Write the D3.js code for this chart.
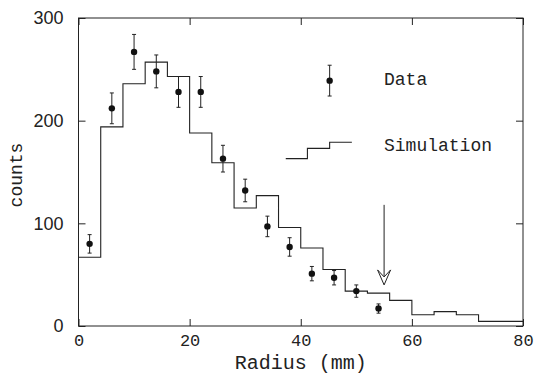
<!DOCTYPE html>
<html>
<head>
<meta charset="utf-8">
<script src="https://cdn.jsdelivr.net/npm/d3@7"></script>
<style>
  body { margin: 0; background: #fff; }
  .mono { font-family: "Liberation Mono", monospace; fill: #222; }
  .sans { font-family: "Liberation Sans", Arial, sans-serif; fill: #222; }
</style>
</head>
<body>
<svg id="chart" width="535" height="375"></svg>
<script>
// measured data points (bin centres, counts, error)
var dataR      = [2, 6, 10, 14, 18, 22, 26, 30, 34, 38, 42, 46, 50, 54];
var dataCounts = [80, 212, 267, 248, 228, 228, 163, 132, 97, 77, 51, 47, 34, 17];
var dataErr    = [9, 15, 17, 16, 15, 15, 13, 11, 10, 9, 7, 7, 6, 4.5];

// simulation histogram: bin edges and counts per bin
var simEdges  = [0, 4, 8, 12, 16, 20, 24, 28, 32, 36, 40, 44, 48, 52, 56, 60, 64, 68, 72, 80];
var simCounts = [67, 194, 236, 257, 243, 188, 159, 115, 127, 96, 76, 55, 34, 32, 25, 11, 14, 11, 4.5];

// axis ticks
var xTicks = [0, 20, 40, 60, 80];
var yTicks = [0, 100, 200, 300];

// legend entries (in data units)
var legendData = {r: 45.2, count: 239, err: 15};
var legendSimX = [37.3, 41.2, 45.2, 49.2];
var legendSimY = [163, 173, 179, 179];
var legendLabels = ["Data", "Simulation"];
var legendLabelY = [235, 170];

// arrow marking the cut (x, from count, to count)
var arrowX = 55, arrowFrom = 118, arrowTo = 40;

var svg = d3.select("#chart"),
    margin = {top: 18, right: 12, bottom: 49, left: 78.5},
    width = +svg.attr("width") - margin.left - margin.right,
    height = +svg.attr("height") - margin.top - margin.bottom,
    g = svg.append("g").attr("transform", "translate(" + margin.left + "," + margin.top + ")");

var x = d3.scaleLinear().domain([0, 80]).range([0, width]);
var y = d3.scaleLinear().domain([0, 300]).range([height, 0]);

var ink = "#222";

// frame
g.append("rect")
    .attr("width", width)
    .attr("height", height)
    .attr("fill", "none")
    .attr("stroke", ink)
    .attr("stroke-width", 1);

// axes with inward ticks on all four sides
function styleAxis(sel, cls, size) {
    sel.select(".domain").remove();
    sel.selectAll(".tick line").attr("stroke", ink);
    sel.selectAll("text").attr("class", cls).attr("font-size", size);
}

g.append("g")
    .attr("transform", "translate(0," + height + ")")
    .call(d3.axisBottom(x).tickValues(xTicks).tickSize(-7).tickPadding(8))
    .call(styleAxis, "mono", 17);

g.append("g")
    .call(d3.axisTop(x).tickValues(xTicks).tickSize(-7).tickFormat(""))
    .call(styleAxis, "mono", 17);

g.append("g")
    .call(d3.axisLeft(y).tickValues(yTicks).tickSize(-7).tickPadding(15))
    .call(styleAxis, "sans", 18);

g.append("g")
    .attr("transform", "translate(" + width + ",0)")
    .call(d3.axisRight(y).tickValues(yTicks).tickSize(-7).tickFormat(""))
    .call(styleAxis, "sans", 18);

// axis titles
svg.append("text")
    .attr("class", "mono")
    .attr("x", margin.left + width / 2)
    .attr("y", 369)
    .attr("text-anchor", "middle")
    .attr("font-size", 20)
    .text("Radius (mm)");

svg.append("text")
    .attr("class", "mono")
    .attr("transform", "translate(22," + (margin.top + 157) + ") rotate(-90)")
    .attr("text-anchor", "middle")
    .attr("font-size", 18)
    .text("counts");

// simulation histogram
var simPts = simCounts.map(function(c, i) { return [simEdges[i], c]; });
simPts.push([simEdges[simEdges.length - 1], simCounts[simCounts.length - 1]]);

var step = d3.line()
    .x(function(d) { return x(d[0]); })
    .y(function(d) { return y(d[1]); })
    .curve(d3.curveStepAfter);

g.append("path")
    .datum(simPts)
    .attr("d", step)
    .attr("fill", "none")
    .attr("stroke", ink)
    .attr("stroke-width", 1.1);

// data points with error bars
function drawPoint(sel, r, c, e) {
    var p = sel.append("g");
    p.append("line")
        .attr("x1", x(r)).attr("x2", x(r))
        .attr("y1", y(c + e)).attr("y2", y(c - e))
        .attr("stroke", ink);
    [c + e, c - e].forEach(function(v) {
        p.append("line")
            .attr("x1", x(r) - 2).attr("x2", x(r) + 2)
            .attr("y1", y(v)).attr("y2", y(v))
            .attr("stroke", ink);
    });
    p.append("circle")
        .attr("cx", x(r)).attr("cy", y(c))
        .attr("r", 3.2)
        .attr("fill", "#111");
}

dataR.forEach(function(r, i) {
    drawPoint(g, r, dataCounts[i], dataErr[i]);
});

// legend
drawPoint(g, legendData.r, legendData.count, legendData.err);

g.append("path")
    .datum(legendSimX.map(function(v, i) { return [v, legendSimY[i]]; }))
    .attr("d", step)
    .attr("fill", "none")
    .attr("stroke", ink)
    .attr("stroke-width", 1.1);

legendLabels.forEach(function(t, i) {
    svg.append("text")
        .attr("class", "mono")
        .attr("x", 384)
        .attr("y", margin.top + y(legendLabelY[i]))
        .attr("font-size", 18)
        .text(t);
});

// arrow
var ax = x(arrowX), tip = y(arrowTo);
g.append("line")
    .attr("x1", ax).attr("x2", ax)
    .attr("y1", y(arrowFrom)).attr("y2", tip - 8)
    .attr("stroke", ink);

g.append("path")
    .attr("d", "M" + ax + "," + tip +
               "L" + (ax - 6.5) + "," + (tip - 15) +
               "L" + ax + "," + (tip - 8) +
               "L" + (ax + 6.5) + "," + (tip - 15) + "Z")
    .attr("fill", "#fff")
    .attr("stroke", ink)
    .attr("stroke-linejoin", "miter");
</script>
</body>
</html>
